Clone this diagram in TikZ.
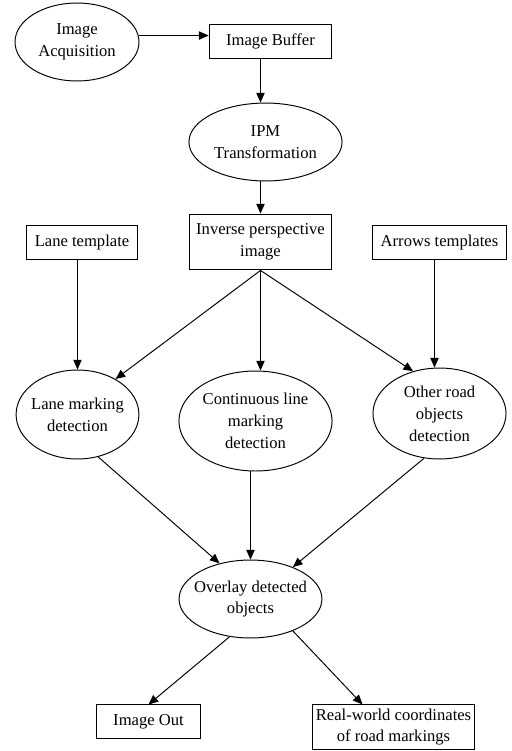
\documentclass[tikz,border=0pt]{standalone}
\usepackage{fontspec}
\setmainfont{Liberation Serif}
\usetikzlibrary{arrows.meta,positioning,shapes.geometric,calc}
\tikzset{
  box/.style={draw,line width=0.7pt,inner sep=0pt,align=center,
    font=\fontsize{12}{15.8}\selectfont},
  oval/.style={draw,ellipse,line width=0.7pt,inner ysep=0pt,inner xsep=-5pt,
    align=center,font=\fontsize{12}{15.8}\selectfont},
  arrow/.style={-{Triangle[length=7pt,width=6pt]},line width=0.7pt}
}
\begin{document}
\begin{tikzpicture}[x=0.0254cm,y=-0.0254cm]
  \useasboundingbox (0,0) rectangle (512,751);

  % top row
  \node[oval,minimum width=3.15cm,minimum height=1.98cm] (acq) at (77,42) {Image\\Acquisition};
  \node[box,minimum width=3.12cm,minimum height=0.84cm] (buffer) at (270.5,41.5) {Image Buffer};
  \node[oval,minimum width=3.89cm,minimum height=1.98cm] (ipm) at (265.5,142) {IPM\\Transformation};

  % templates and IPM image
  \node[box,minimum width=3.63cm,minimum height=1.42cm] (inv) at (260.5,242) {Inverse perspective\\image};
  \node[box,minimum width=2.84cm,minimum height=0.84cm] (lanetpl) at (82,242.5) {Lane template};
  \node[box,minimum width=3.38cm,minimum height=0.84cm] (arrowtpl) at (439.5,242.5) {Arrows templates};

  % detectors
  \node[oval,minimum width=3.12cm,minimum height=2.26cm] (lanedet) at (77.5,414.5) {Lane marking\\detection};
  \node[oval,minimum width=3.89cm,minimum height=2.54cm] (contdet) at (255.5,421) {Continuous line\\marking\\detection};
  \node[oval,minimum width=3.38cm,minimum height=2.31cm] (otherdet) at (439.5,413.5) {Other road\\objects\\detection};

  % output
  \node[oval,minimum width=3.63cm,minimum height=1.98cm] (overlay) at (250.5,599) {Overlay detected\\objects};
  \node[box,minimum width=2.62cm,minimum height=0.84cm] (imgout) at (148.5,721.5) {Image Out};
  \node[box,minimum width=4.14cm,minimum height=1.12cm] (realworld) at (393.5,727) {Real-world coordinates\\of road markings};

  \coordinate (tplfoot) at ($(arrowtpl.south)+(-5,0)$);
  \coordinate (rwtop) at ($(realworld.north)+(-31,0)$);

  \draw[arrow] (acq.6) -- (buffer.west |- acq.6);
  \draw[arrow] (buffer.south -| inv) -- (ipm.north -| inv);
  \draw[arrow] (ipm.south -| inv) -- (inv.north);
  \draw[arrow] (lanetpl.south -| lanedet) -- (lanedet.north);
  \draw[arrow] (tplfoot) -- (tplfoot |- otherdet.north);
  \draw[arrow] (inv.south) -- (lanedet.43);
  \draw[arrow] (inv.south) -- (contdet.north -| inv.south);
  \draw[arrow] (inv.south) -- (otherdet.122);
  \draw[arrow] (lanedet.-64) -- (overlay.131);
  \draw[arrow] (contdet.south -| overlay) -- (overlay.north);
  \draw[arrow] (otherdet.251) -- (overlay.37);
  \draw[arrow] (overlay.-119) -- (imgout.north);
  \draw[arrow] (overlay.-37) -- (rwtop);
\end{tikzpicture}
\end{document}
